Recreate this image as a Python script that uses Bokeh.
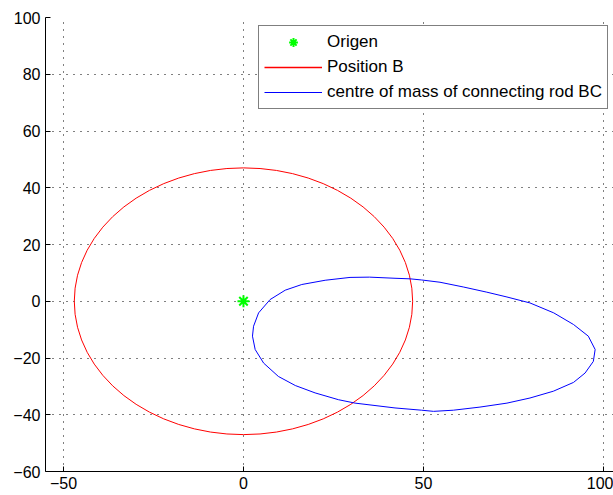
from bokeh.plotting import figure
from bokeh.models import Range1d, Legend, LegendItem, FixedTicker
from bokeh.embed import file_html
from bokeh.resources import INLINE

# ---- data ----
x_ticks = [-50, 0, 50, 100]
y_ticks = [-60, -40, -20, 0, 20, 40, 60, 80, 100]

origin_x = [0]
origin_y = [0]

# Position B: circle centred on the origin
circle_cx = [0]
circle_cy = [0]
circle_d = [94]  # diameter (radius 47)

# centre of mass of connecting rod BC (closed curve)
blue_x = [97.7, 95.8, 91.7, 86.2, 79.6, 73.2, 67.6, 61.2, 54.6, 49.5, 46.3, 42.1,
          35.0, 29.6, 22.7, 16.2, 11.6, 7.4, 4.2, 2.8, 2.5, 3.25, 5.6, 9.7,
          14.4, 19.9, 26.4, 31.0, 42.1, 49.5, 52.8, 58.3, 65.7, 73.2, 79.6, 86.1,
          91.7, 94.9, 97.2, 97.7]
blue_y = [-17.0, -12.3, -8.2, -4.1, -0.6, 1.5, 3.2, 5.0, 6.7, 7.5, 7.9, 8.1,
          8.5, 8.4, 7.4, 5.9, 3.9, 0.6, -4.1, -8.8, -12.3, -17.0, -21.8, -26.5,
          -29.7, -32.3, -34.7, -35.9, -37.6, -38.4, -38.8, -38.4, -37.3, -35.9, -34.1, -31.7,
          -28.6, -25.3, -21.2, -17.0]

labels = ["Origen", "Position B", "centre of mass of connecting rod BC"]

FONT = "Liberation Sans"
RED = "#ff0000"
BLUE = "#0000ff"
GREEN = "#00ff00"

p = figure(width=613, height=495,
           x_range=Range1d(-55, 102.8), y_range=Range1d(-60, 100),
           output_backend="svg", toolbar_location=None,
           min_border_left=45, min_border_right=0,
           min_border_top=17, min_border_bottom=24)
p.outline_line_color = None
p.background_fill_color = "white"
p.border_fill_color = "white"

for ax, ticks in ((p.xaxis, x_ticks), (p.yaxis, y_ticks)):
    ax.ticker = FixedTicker(ticks=ticks)
    ax.major_tick_in = 5
    ax.major_tick_out = 0
    ax.minor_tick_line_color = None
    ax.axis_line_color = "black"
    ax.major_tick_line_color = "black"
    ax.major_label_text_font = FONT
    ax.major_label_text_font_size = "16px"
    ax.major_label_text_color = "black"
    ax.major_label_standoff = 5

for g in (p.xgrid, p.ygrid):
    g.grid_line_color = "black"
    g.grid_line_dash = "1 6"
    g.grid_line_width = 1
    g.grid_line_alpha = 1.0

origin_r = p.scatter(origin_x, origin_y, marker="asterisk", size=12,
                     line_color=GREEN, line_width=2)
red_r = p.ellipse(x=circle_cx, y=circle_cy, width=circle_d, height=circle_d,
                  fill_color=None, line_color=RED, line_width=1)
# zero-length segment: invisible on the plot, gives a line-shaped legend sample
red_leg = p.segment(x0=circle_cx, y0=circle_cy, x1=circle_cx, y1=circle_cy,
                    line_color=RED, line_width=1.6, line_alpha=1.0)
blue_r = p.line(blue_x, blue_y, line_color=BLUE, line_width=1)

legend = Legend(items=[LegendItem(label=labels[0], renderers=[origin_r]),
                       LegendItem(label=labels[1], renderers=[red_leg]),
                       LegendItem(label=labels[2], renderers=[blue_r])],
                location=(213, 362))
legend.padding = 5
legend.margin = 0
legend.spacing = 3
legend.label_height = 22
legend.glyph_height = 22
legend.glyph_width = 58
legend.label_standoff = 5
legend.label_text_font = FONT
legend.label_text_font_size = "17px"
legend.label_text_color = "black"
legend.border_line_color = "black"
legend.border_line_width = 1
legend.background_fill_color = "white"
legend.background_fill_alpha = 1
p.add_layout(legend, "center")

open("out.html", "w").write(file_html(p, INLINE))
